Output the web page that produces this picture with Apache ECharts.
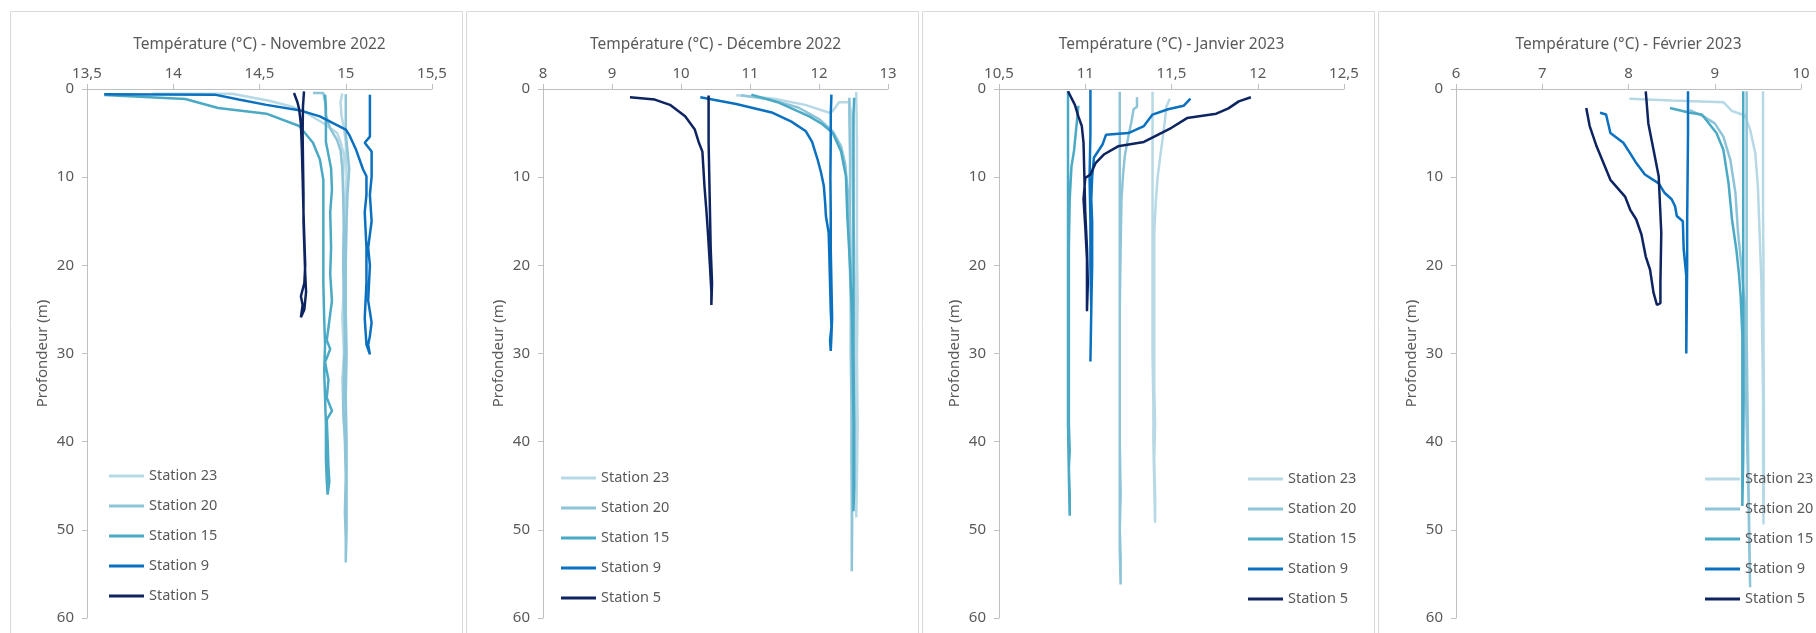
<!DOCTYPE html>
<html>
<head>
<meta charset="utf-8">
<title>Profils de température</title>
<script src="https://cdn.jsdelivr.net/npm/echarts@6/dist/echarts.min.js"></script>
<style>
  html, body { margin: 0; padding: 0; background: #fff; }
  #main { width: 1816px; height: 633px; }
</style>
</head>
<body>
<div id="main"></div>
<script>
// stations, colours and months
var stations = ["Station 23", "Station 20", "Station 15", "Station 9", "Station 5"];
var stationColors = ["#b7d9e6", "#8dc4d8", "#4aa9c5", "#0a70c0", "#0d2461"];
var months = ["Novembre 2022", "Décembre 2022", "Janvier 2023", "Février 2023"];
var tempMin = [13.5, 8, 10.5, 6];
var tempMax = [15.5, 13, 12.5, 10];
var tempStep = [0.5, 1, 0.5, 1];
var depthTicks = [0, 10, 20, 30, 40, 50, 60];

// profiles: [température, profondeur]
// Novembre 2022
var nov23 = [[13.88,0.53],[14.34,0.53],[14.55,1.3],[14.69,2.0],[14.77,2.7],[14.88,4.0],[14.95,5],[14.97,6],[14.99,7.5],[14.985,10],[14.99,14],[14.985,18],[14.99,22],[14.98,26],[14.99,30],[14.98,33],[14.985,36],[14.99,38.2],[14.995,35],[15.0,30],[15.0,25],[14.995,20],[15.0,15],[15.005,10],[15.0,6],[14.99,4.5],[14.975,3],[14.97,1.5],[14.98,0.5]];
var nov20 = [[14.81,0.45],[14.87,0.45],[14.88,1.5],[14.885,3],[14.91,4.5],[14.95,5.8],[14.97,7],[14.98,9],[14.985,12],[14.99,16],[14.985,20],[14.99,24],[14.995,28],[14.99,32],[14.985,36],[14.995,40],[15.0,44],[14.995,48],[15.0,51],[15.0,53.7],[15.005,50],[15.005,45],[15.005,40],[15.0,35],[15.005,30],[15.0,25],[15.0,20],[15.005,15],[15.01,12],[15.02,9.1],[15.01,7],[15.0,5],[15.0,3],[15.0,0.6]];
var nov15 = [[14.88,0.64],[14.885,2],[14.885,4],[14.885,6],[14.90,7.5],[14.915,9],[14.92,11.4],[14.91,14],[14.915,18],[14.91,21],[14.92,24],[14.90,27],[14.89,28.5],[14.91,29.5],[14.88,31],[14.90,33],[14.89,35],[14.92,36.5],[14.89,37.5],[14.895,40],[14.90,43],[14.905,44.5],[14.895,46],[14.89,44.5],[14.885,42],[14.885,38],[14.88,35],[14.875,32],[14.88,29],[14.875,26],[14.87,22],[14.87,18],[14.87,14],[14.87,12.5],[14.87,10.3],[14.85,8],[14.81,6.1],[14.73,4.2],[14.54,2.8],[14.26,2.15],[14.07,1.13],[13.6,0.68]];
var nov9 = [[15.14,0.65],[15.14,3],[15.14,5.4],[15.11,6.1],[15.15,7.1],[15.15,9.9],[15.14,12],[15.15,15],[15.13,18],[15.14,20],[15.13,24],[15.15,26.5],[15.14,28],[15.13,29],[15.14,30.1],[15.12,29],[15.11,26],[15.12,22],[15.12,18],[15.11,14],[15.12,12],[15.12,9.9],[15.10,9.1],[15.06,6.9],[15.02,5.2],[15.0,4.6],[14.85,3.1],[14.73,2.4],[14.54,1.8],[14.38,1.2],[14.24,0.64],[13.6,0.6]];
var nov5 = [[14.70,0.45],[14.72,1.5],[14.73,2.3],[14.74,4],[14.745,6.5],[14.75,10],[14.755,14],[14.76,17],[14.765,20],[14.76,22],[14.74,23.5],[14.75,24.5],[14.74,25.9],[14.76,25],[14.77,23],[14.765,21],[14.76,18],[14.755,15],[14.755,12],[14.752,8],[14.75,5],[14.752,2],[14.758,0.26]];

// Décembre 2022
var dec23 = [[10.8,0.72],[11.1,0.9],[11.35,1.1],[11.8,1.8],[12.15,2.7],[12.2,2.5],[12.29,1.5],[12.44,1.5],[12.47,3],[12.48,8],[12.5,15],[12.52,22],[12.53,28],[12.52,35],[12.53,42],[12.54,48.6],[12.55,44],[12.56,38],[12.55,30],[12.56,24],[12.55,18],[12.55,12],[12.55,6],[12.54,0.3]];
var dec20 = [[10.87,0.7],[11.3,1.2],[11.7,2.1],[12.0,3.4],[12.2,4.8],[12.32,6.5],[12.38,8.5],[12.42,12],[12.44,18],[12.46,24],[12.46,30],[12.47,36],[12.47,42],[12.475,48],[12.475,54.7],[12.48,50],[12.48,44],[12.47,38],[12.47,32],[12.46,26],[12.46,20],[12.45,14],[12.45,8],[12.44,3],[12.44,1.0]];
var dec15 = [[11.02,0.64],[11.4,1.5],[11.86,3.1],[12.05,4],[12.2,5],[12.32,7.1],[12.39,9.9],[12.41,14.4],[12.45,20],[12.48,26],[12.49,32],[12.5,38],[12.5,44],[12.5,47.9],[12.51,45],[12.51,38],[12.5,30],[12.5,22],[12.5,15],[12.5,8],[12.5,3],[12.51,1.0]];
var dec9 = [[10.28,0.94],[10.8,1.7],[11.33,2.7],[11.6,3.7],[11.81,4.8],[11.9,6],[11.98,8],[12.03,9.5],[12.07,11],[12.09,13],[12.10,14.4],[12.14,16.3],[12.15,19],[12.16,22],[12.17,25],[12.18,27],[12.16,28.5],[12.17,29.7],[12.18,28],[12.19,26],[12.18,22],[12.17,18],[12.17,14],[12.165,10],[12.17,6],[12.17,3],[12.18,0.64]];
var dec5 = [[9.26,0.94],[9.62,1.2],[9.84,1.8],[10.06,3.1],[10.2,4.6],[10.26,6.1],[10.31,7.1],[10.34,11],[10.37,14],[10.39,16.3],[10.42,20.1],[10.44,23],[10.44,24.5],[10.45,22],[10.43,18],[10.42,14],[10.41,10],[10.40,6],[10.40,3],[10.40,0.75]];

// Janvier 2023
var jan23 = [[11.49,1.1],[11.47,2],[11.46,3.9],[11.44,6.9],[11.42,9.9],[11.41,12.5],[11.40,16.3],[11.4,22],[11.4,28],[11.4,34],[11.405,38],[11.4,42],[11.405,46],[11.405,49.2],[11.4,45],[11.395,40],[11.395,36],[11.39,30],[11.39,24],[11.39,18],[11.39,12],[11.39,6],[11.39,0.3]];
var jan20 = [[11.3,0.94],[11.3,2],[11.28,2.3],[11.27,3.5],[11.25,5.4],[11.23,7.5],[11.22,9.5],[11.21,12.5],[11.205,18],[11.2,25],[11.2,32],[11.2,40],[11.205,46],[11.2,50],[11.205,53],[11.205,56.2],[11.2,52],[11.2,45],[11.2,38],[11.2,30],[11.2,22],[11.2,14],[11.2,6],[11.2,0.3]];
var jan15 = [[10.96,1.9],[10.955,3],[10.945,5],[10.935,7],[10.92,8.8],[10.91,12.5],[10.905,18],[10.905,25],[10.905,32],[10.905,38],[10.91,41],[10.905,43],[10.91,46],[10.91,48.4],[10.905,44],[10.9,38],[10.9,30],[10.9,22],[10.9,14],[10.9,8],[10.9,3],[10.9,0.26]];
var jan9 = [[11.03,0.1],[11.03,5],[11.025,10],[11.03,15],[11.03,20],[11.035,25],[11.03,30.9],[11.035,25],[11.04,20],[11.04,15],[11.035,12.5],[11.04,10],[11.05,7.8],[11.1,6.3],[11.12,5.2],[11.25,5.0],[11.34,4.2],[11.39,2.9],[11.48,2.3],[11.57,1.9],[11.61,1.1]];
var jan5 = [[11.96,0.94],[11.89,1.4],[11.83,2.2],[11.76,2.8],[11.59,3.3],[11.5,4.4],[11.4,5.4],[11.34,6.0],[11.19,6.5],[11.11,7.4],[11.06,8.4],[11.03,9.7],[11.0,10.1],[10.99,12.5],[11.0,15.6],[11.01,19.3],[11.01,25.2],[11.015,22],[11.01,18],[11.0,14],[10.995,10],[10.99,6.1],[10.98,4.2],[10.96,3.1],[10.94,1.8],[10.90,0.26]];

// Février 2023
var feb23 = [[8.01,1.1],[8.5,1.3],[9.1,1.5],[9.2,2.5],[9.35,3.0],[9.41,4.6],[9.47,7.3],[9.5,11],[9.52,16.3],[9.54,21.6],[9.55,28],[9.56,35],[9.56,42],[9.565,49.4],[9.57,44],[9.57,36],[9.565,28],[9.565,20],[9.56,14],[9.56,8],[9.56,3],[9.56,0.26]];
var feb20 = [[8.71,2.4],[8.87,3.1],[9.0,3.9],[9.1,5.4],[9.18,8],[9.24,11.8],[9.27,16.3],[9.31,20.1],[9.34,23.9],[9.35,30],[9.37,38],[9.39,46],[9.4,52],[9.41,56.5],[9.4,50],[9.39,44],[9.38,36],[9.37,28],[9.37,20],[9.37,12],[9.37,5],[9.37,0.26]];
var feb15 = [[8.48,2.15],[8.71,2.7],[8.85,2.9],[8.94,4.0],[9.02,5],[9.1,6.9],[9.16,10.7],[9.2,14.8],[9.25,18.2],[9.28,20.9],[9.3,23.5],[9.32,28],[9.32,35],[9.32,42],[9.32,47.3],[9.34,47.3],[9.33,42],[9.335,35],[9.33,28],[9.33,20],[9.33,12],[9.33,5],[9.33,0.26]];
var feb9 = [[7.67,2.7],[7.74,2.9],[7.79,5],[7.94,6.1],[8.02,7.3],[8.09,8.4],[8.19,9.7],[8.35,10.7],[8.42,11.8],[8.5,12.5],[8.54,13.3],[8.56,14.4],[8.63,15],[8.64,18.2],[8.67,21.2],[8.67,25],[8.67,30],[8.675,25],[8.68,20],[8.68,15],[8.685,10.3],[8.69,5],[8.69,0.26]];
var feb5 = [[7.51,2.15],[7.55,4.2],[7.63,6.5],[7.71,8.4],[7.79,10.3],[7.96,12.2],[8.02,13.7],[8.09,14.8],[8.15,16.5],[8.2,19],[8.25,20.5],[8.29,23.1],[8.33,24.5],[8.37,24.3],[8.37,22],[8.38,16.3],[8.35,9.9],[8.29,6.9],[8.23,3.9],[8.2,0.26]];

var profiles = [
    [nov23, nov20, nov15, nov9, nov5],
    [dec23, dec20, dec15, dec9, dec5],
    [jan23, jan20, jan15, jan9, jan5],
    [feb23, feb20, feb15, feb9, feb5]
];

// layout of the four panels
var panelLeft = [10, 466, 922, 1378];
var plotLeft = [87, 543, 999, 1456];
var legendLeft = [104, 556, 1243, 1700];
var legendTop = [463, 465, 466, 466];

var FONT = "Noto Sans";
var GREY = "#595959";
var AXIS = "#bfbfbf";

function comma(v) {
    return String(v).replace(".", ",");
}

var grids = [], xAxes = [], yAxes = [], series = [], legends = [], borders = [];

for (var i = 0; i < 4; i++) {
    grids.push({left: plotLeft[i], top: 89, width: 345, height: 529});
    xAxes.push({
        type: "value",
        gridIndex: i,
        position: "top",
        min: tempMin[i],
        max: tempMax[i],
        interval: tempStep[i],
        name: "Température (°C) - " + months[i],
        nameLocation: "middle",
        nameGap: 36,
        nameTextStyle: {fontFamily: FONT, fontSize: 15.5, color: GREY},
        axisLine: {show: true, lineStyle: {color: AXIS, width: 1}},
        axisTick: {show: true, length: 5, lineStyle: {color: AXIS}},
        axisLabel: {fontFamily: FONT, fontSize: 15, color: GREY, margin: 8, formatter: comma},
        splitLine: {show: false}
    });
    yAxes.push({
        type: "value",
        gridIndex: i,
        inverse: true,
        min: depthTicks[0],
        max: depthTicks[depthTicks.length - 1],
        interval: 10,
        name: "Profondeur (m)",
        nameLocation: "middle",
        nameGap: 37,
        nameTextStyle: {fontFamily: FONT, fontSize: 15, color: GREY},
        axisLine: {show: true, lineStyle: {color: AXIS, width: 1}},
        axisTick: {show: true, length: 5, lineStyle: {color: AXIS}},
        axisLabel: {fontFamily: FONT, fontSize: 15, color: GREY, margin: 13},
        splitLine: {show: false}
    });
    for (var j = 0; j < stations.length; j++) {
        series.push({
            type: "line",
            name: stations[j],
            xAxisIndex: i,
            yAxisIndex: i,
            data: profiles[i][j],
            symbol: "none",
            showSymbol: false,
            lineStyle: {color: stationColors[j], width: 2.5},
            itemStyle: {color: stationColors[j]}
        });
    }
    legends.push({
        data: stations,
        orient: "vertical",
        left: legendLeft[i],
        top: legendTop[i],
        icon: "rect",
        itemWidth: 35,
        itemHeight: 3,
        itemGap: 14,
        selectedMode: false,
        textStyle: {fontFamily: FONT, fontSize: 14.5, color: GREY, lineHeight: 16}
    });
    borders.push({
        type: "rect",
        shape: {x: panelLeft[i] + 0.5, y: 11.5, width: 452, height: 640},
        style: {fill: null, stroke: "#d9d9d9", lineWidth: 1},
        silent: true
    });
}

var myChart = echarts.init(document.getElementById("main"));
myChart.setOption({
    backgroundColor: "#ffffff",
    animation: false,
    textStyle: {fontFamily: FONT},
    graphic: borders,
    grid: grids,
    xAxis: xAxes,
    yAxis: yAxes,
    legend: legends,
    series: series
});
</script>
</body>
</html>
